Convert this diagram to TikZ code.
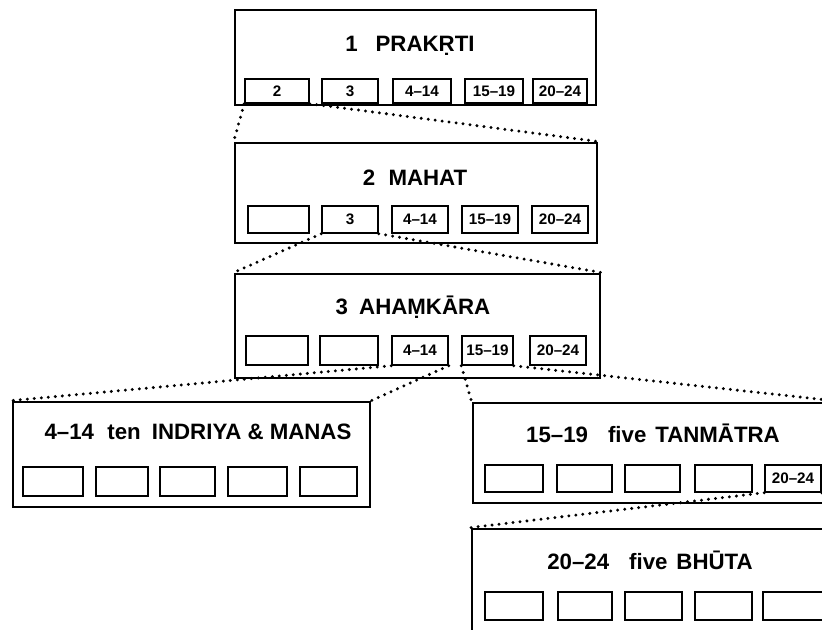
\documentclass[tikz,border=0pt]{standalone}
\usepackage{fontspec}
\setsansfont{Liberation Sans}
\usetikzlibrary{fit}

\tikzset{
  panel/.style={draw, line width=2.4pt, inner sep=0pt},
  cell/.style={draw, line width=1.2pt, inner sep=0pt},
  cell text/.style={font=\sffamily\bfseries\fontsize{13}{15}\selectfont,
    inner sep=0pt},
  heading/.style={font=\sffamily\bfseries\fontsize{19}{22}\selectfont},
  link/.style={line width=2.8pt, line cap=round, dash pattern=on 0pt off 6pt}
}

\begin{document}
\begin{tikzpicture}[x=0.3mm, y=-0.3mm]
  \clip (0, 0) rectangle (822, 630);

  \node[panel, fit={(235, 10) (596, 105)}] (prakrti) {};
  \node[panel, fit={(235, 143) (597, 243)}] (mahat) {};
  \node[panel, fit={(235, 274) (600, 378)}] (ahamkara) {};
  \node[panel, fit={(13, 402) (370, 507)}] (indriya) {};
  \node[panel, fit={(473, 403) (840, 503)}] (tanmatra) {};
  \node[panel, fit={(472, 529) (840, 650)}] (bhuta) {};

  \node[heading] (prakrti title) at (410, 46) {1\hspace{0.8em}PRAKṚTI};
  \node[heading] (mahat title) at (415, 178) {2\hspace{0.6em}MAHAT};
  \node[heading] (ahamkara title) at (413, 307) {3\hspace{0.5em}AHAṂKĀRA};
  \node[heading] (indriya title) at (198, 432)
    {4--14\hspace{0.6em}ten\hspace{0.5em}INDRIYA \& MANAS};
  \node[heading] (tanmatra title) at (653, 433)
    {15--19\hspace{0.9em}five\hspace{0.4em}TANMĀTRA};
  \node[heading] (bhuta title) at (650, 560)
    {20--24\hspace{0.9em}five\hspace{0.4em}BHŪTA};

  \foreach \l/\r/\t [count=\i] in {245/309/2, 322/378/3, 393/451/4--14,
      465/523/15--19, 533/587/20--24}
    \node[cell, fit={(\l, 79) (\r, 103)},
      label={[cell text]center:\t}] (p\i) {};
  \foreach \l/\r/\t [count=\i] in {248/309/{}, 322/378/3, 392/448/4--14,
      462/518/15--19, 532/588/20--24}
    \node[cell, fit={(\l, 206) (\r, 233)},
      label={[cell text]center:\t}] (m\i) {};
  \foreach \l/\r/\t [count=\i] in {246/308/{}, 320/378/{}, 392/448/4--14,
      462/513/15--19, 530/586/20--24}
    \node[cell, fit={(\l, 336) (\r, 365)},
      label={[cell text]center:\t}] (a\i) {};
  \foreach \l/\r [count=\i] in {23/83, 96/148, 160/215, 228/287, 300/357}
    \node[cell, fit={(\l, 467) (\r, 496)}] (i\i) {};
  \foreach \l/\r/\t [count=\i] in {485/543/{}, 557/612/{}, 625/680/{},
      695/752/{}, 765/821/20--24}
    \node[cell, fit={(\l, 465) (\r, 492)},
      label={[cell text]center:\t}] (t\i) {};
  \foreach \l/\r [count=\i] in {485/543, 558/612, 625/682, 695/752, 763/830}
    \node[cell, fit={(\l, 592) (\r, 620)}] (b\i) {};

  \draw[link] (p1.south west) -- (mahat.north west);
  \draw[link] (p1.south east) -- (mahat.north east);
  \draw[link] (m2.south west) -- (ahamkara.north west);
  \draw[link] (m2.south east) -- (ahamkara.north east);
  \draw[link] (a3.south west) -- (indriya.north west);
  \draw[link] (a3.south east) -- (indriya.north east);
  \draw[link] (a4.south west) -- (tanmatra.north west);
  \draw[link] (a4.south east) -- (tanmatra.north east);
  \draw[link] (t5.south west) -- (bhuta.north west);
  \draw[link] (t5.south east) -- (bhuta.north east);
\end{tikzpicture}
\end{document}
